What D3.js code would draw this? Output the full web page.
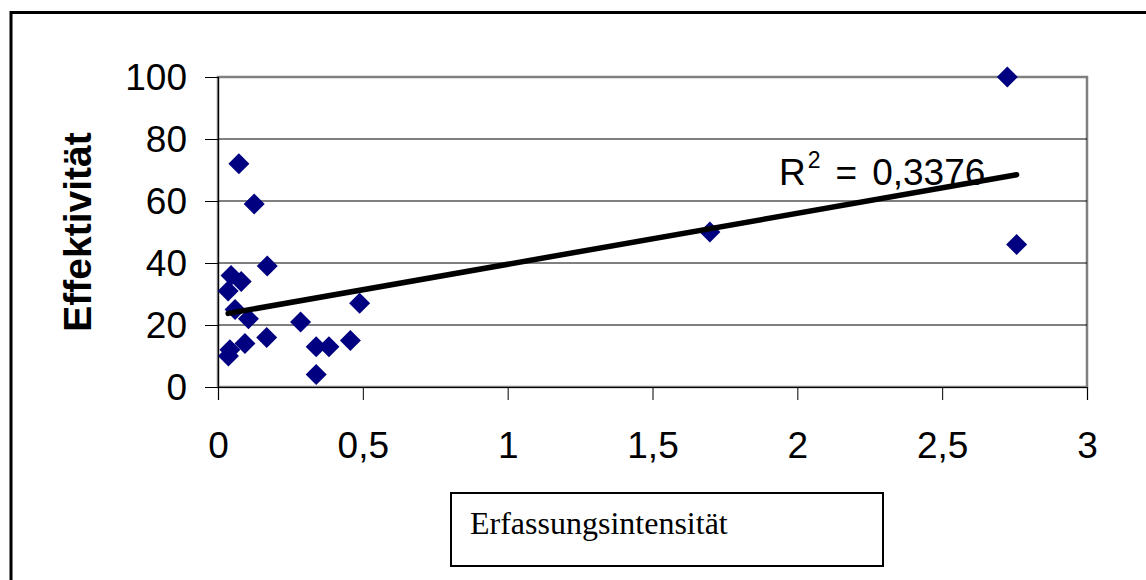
<!DOCTYPE html>
<html>
<head>
<meta charset="utf-8">
<script src="https://cdn.jsdelivr.net/npm/d3@7"></script>
<style>
  html, body { margin: 0; padding: 0; background: #fff; }
  svg { display: block; }
</style>
</head>
<body>
<svg id="chart" width="1146" height="580"></svg>
<script>
// ---- data ----
const xValues = [0.072, 0.125, 0.17, 0.045, 0.08, 0.035, 0.059, 0.105, 0.285, 0.489,
                 0.041, 0.036, 0.093, 0.168, 0.339, 0.383, 0.457, 0.339, 1.698, 2.725, 2.757];
const yValues = [72, 59, 39, 36, 34, 31, 25, 22, 21, 27,
                 12, 10, 14, 16, 13, 13, 15, 4, 50, 100, 46];
const xTicks = [0, 0.5, 1, 1.5, 2, 2.5, 3];
const yTicks = [0, 20, 40, 60, 80, 100];
const xTitle = "Erfassungsintensität";
const yTitle = "Effektivität";
const r2Label = ["R", "2", "=", "0,3376"];

const svg = d3.select("#chart");
const plot = { left: 218, right: 1087, top: 77, bottom: 387 };

const x = d3.scaleLinear().domain([0, 3]).range([plot.left, plot.right]);
const y = d3.scaleLinear().domain([0, 100]).range([plot.bottom, plot.top]);
const fmt = d => String(d).replace(".", ",");

// outer chart border (extends past the right/bottom edge)
svg.append("rect")
  .attr("x", 11).attr("y", 12.5).attr("width", 1300).attr("height", 1000)
  .attr("fill", "#fff").attr("stroke", "#000").attr("stroke-width", 3);

// plot area
svg.append("rect")
  .attr("x", plot.left).attr("y", plot.top)
  .attr("width", plot.right - plot.left).attr("height", plot.bottom - plot.top)
  .attr("fill", "#fff").attr("stroke", "#808080").attr("stroke-width", 2.5);

// gridlines
svg.append("g").selectAll("line")
  .data(yTicks.filter(d => d > 0 && d < 100))
  .join("line")
  .attr("x1", plot.left).attr("x2", plot.right)
  .attr("y1", d => y(d)).attr("y2", d => y(d))
  .attr("stroke", "#000").attr("stroke-width", 1);

// y axis
const yAxis = d3.axisLeft(y).tickValues(yTicks).tickFormat(fmt).tickSize(13).tickPadding(18);
const gy = svg.append("g").attr("transform", `translate(${plot.left},0)`).call(yAxis);
gy.select(".domain").attr("stroke", "#000").attr("stroke-width", 1.2);
gy.selectAll(".tick line").attr("stroke", "#000").attr("stroke-width", 1);
gy.selectAll(".tick text")
  .attr("font-family", "'Liberation Sans', Arial, sans-serif")
  .attr("font-size", 37).attr("fill", "#000").attr("dy", "0.35em");

// x axis
const xAxis = d3.axisBottom(x).tickValues(xTicks).tickFormat(fmt).tickSize(13).tickPadding(0);
const gx = svg.append("g").attr("transform", `translate(0,${plot.bottom})`).call(xAxis);
gx.select(".domain").attr("stroke", "#000").attr("stroke-width", 1.2);
gx.selectAll(".tick line").attr("stroke", "#000").attr("stroke-width", 1);
gx.selectAll(".tick text")
  .attr("font-family", "'Liberation Sans', Arial, sans-serif")
  .attr("font-size", 37).attr("fill", "#000")
  .attr("dy", null).attr("y", 458 - plot.bottom);

// points (diamonds)
const pts = xValues.map((v, i) => ({ x: v, y: yValues[i] }));
const dsz = 10.5;
svg.append("g").selectAll("path")
  .data(pts)
  .join("path")
  .attr("d", `M0,${-dsz}L${dsz},0L0,${dsz}L${-dsz},0Z`)
  .attr("transform", d => `translate(${x(d.x)},${y(d.y)})`)
  .attr("fill", "#000080");

// linear trendline (least squares from the data)
const mx = d3.mean(xValues), my = d3.mean(yValues);
const sxy = d3.sum(xValues, (v, i) => (v - mx) * (yValues[i] - my));
const sxx = d3.sum(xValues, v => (v - mx) * (v - mx));
const slope = sxy / sxx, intercept = my - slope * mx;
const [xmin, xmax] = d3.extent(xValues);
svg.append("path")
  .datum([xmin, xmax])
  .attr("d", d3.line().x(d => x(d)).y(d => y(intercept + slope * d)))
  .attr("stroke", "#000").attr("stroke-width", 5.5).attr("fill", "none")
  .attr("stroke-linecap", "round");

// R² label
const r2 = svg.append("text")
  .attr("x", 779).attr("y", 185)
  .attr("font-family", "'Liberation Sans', Arial, sans-serif")
  .attr("font-size", 37).attr("fill", "#000");
r2.append("tspan").text(r2Label[0]);
r2.append("tspan").attr("font-size", 23).attr("dx", 2).attr("dy", -17).text(r2Label[1]);
r2.append("tspan").attr("dx", 15).attr("dy", 17).text(r2Label[2]);
r2.append("tspan").attr("dx", 15).text(r2Label[3]);

// y title
svg.append("text")
  .attr("transform", "translate(91,232) rotate(-90)")
  .attr("text-anchor", "middle")
  .attr("font-family", "'Liberation Sans', Arial, sans-serif")
  .attr("font-weight", "bold").attr("font-size", 39).attr("fill", "#000")
  .text(yTitle);

// x title box
svg.append("rect")
  .attr("x", 451).attr("y", 493).attr("width", 432).attr("height", 73)
  .attr("fill", "#fff").attr("stroke", "#000").attr("stroke-width", 2);
svg.append("text")
  .attr("x", 470).attr("y", 534)
  .attr("font-family", "'Liberation Serif', 'Times New Roman', serif")
  .attr("font-size", 32).attr("fill", "#000")
  .text(xTitle);
</script>
</body>
</html>
